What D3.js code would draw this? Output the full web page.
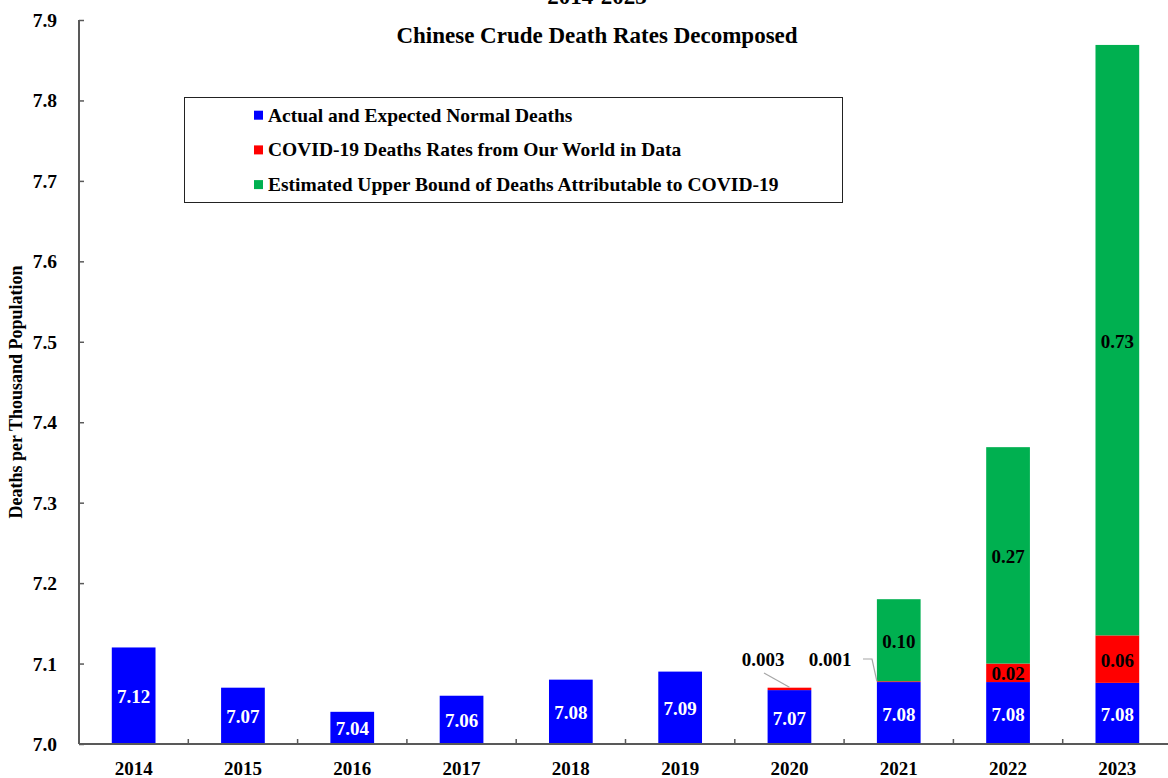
<!DOCTYPE html>
<html>
<head>
<meta charset="utf-8">
<script src="https://cdn.jsdelivr.net/npm/d3@7/dist/d3.min.js"></script>
<style>
  html, body { margin: 0; padding: 0; background: #fff; }
  svg { display: block; }
  svg text { font-family: "Liberation Serif", "Tinos", "Times New Roman", "DejaVu Serif", serif; font-weight: 700; }
</style>
</head>
<body>
<svg id="chart" width="1168" height="778"></svg>
<script>
// Crude death rates per thousand, split into three stacked components
const years = ["2014", "2015", "2016", "2017", "2018", "2019", "2020", "2021", "2022", "2023"];
const normalDeaths = [7.12, 7.07, 7.04, 7.06, 7.08, 7.09, 7.067, 7.077, 7.077, 7.076];
const covidReported = [0, 0, 0, 0, 0, 0, 0.003, 0.001, 0.023, 0.059];
const covidUpperBound = [0, 0, 0, 0, 0, 0, 0, 0.102, 0.269, 0.734];
const yTicks = [7.0, 7.1, 7.2, 7.3, 7.4, 7.5, 7.6, 7.7, 7.8, 7.9];

const seriesNames = [
  "Actual and Expected Normal Deaths",
  "COVID-19 Deaths Rates from Our World in Data",
  "Estimated Upper Bound of Deaths Attributable to COVID-19"
];
const colors = ["#0000ff", "#ff0000", "#00b050"];

const svg = d3.select("#chart");
const plotLeft = 79, plotTop = 20, plotBottom = 744;
const bandW = 109.3;
const plotRight = plotLeft + bandW * years.length;

const x = d3.scaleBand().domain(years).range([plotLeft, plotRight]).paddingInner(0.6).paddingOuter(0.3);
const y = d3.scaleLinear().domain([7.0, 7.9]).range([plotBottom, plotTop]);

// stacked rows
const rows = years.map((yr, i) => ({
  year: yr, normal: normalDeaths[i], reported: covidReported[i], upper: covidUpperBound[i]
}));
const stacked = d3.stack().keys(["normal", "reported", "upper"])(rows);

const g = svg.append("g");
stacked.forEach((layer, li) => {
  g.selectAll(null).data(layer).enter().append("rect")
    .attr("x", d => x(d.data.year))
    .attr("width", x.bandwidth())
    .attr("y", d => y(d[1]))
    .attr("height", d => li === 0 ? plotBottom - y(d[1]) : Math.max(0, y(d[0]) - y(d[1])))
    .attr("fill", colors[li]);
});

// axes
const axisColor = "#595959";
const yAxis = d3.axisRight(y).tickValues(yTicks).tickSize(5).tickFormat("");
const yg = svg.append("g").attr("transform", `translate(${plotLeft},0)`).call(yAxis);
yg.select(".domain").attr("stroke", axisColor).attr("stroke-width", 2).attr("d", `M0,${plotTop}V${plotBottom}`);
yg.selectAll(".tick line").attr("stroke", axisColor).attr("stroke-width", 1.5);

svg.selectAll(".ytl").data(yTicks).enter().append("text")
  .attr("x", 57).attr("y", d => y(d) + 7)
  .attr("text-anchor", "end").attr("font-size", 19.5).text(d => d.toFixed(1));

// x axis with boundary ticks between categories
const xg = svg.append("g");
xg.append("line").attr("x1", plotLeft).attr("x2", 1168).attr("y1", plotBottom).attr("y2", plotBottom)
  .attr("stroke", axisColor).attr("stroke-width", 2);
const step = x.step();
xg.selectAll(null).data(years.slice(1)).enter().append("line")
  .attr("x1", yr => x(yr) - step * x.paddingInner() / 2)
  .attr("x2", yr => x(yr) - step * x.paddingInner() / 2)
  .attr("y1", plotBottom).attr("y2", plotBottom - 5)
  .attr("stroke", axisColor).attr("stroke-width", 1.5);
svg.selectAll(".xtl").data(years).enter().append("text")
  .attr("x", d => x(d) + x.bandwidth() / 2).attr("y", 775)
  .attr("text-anchor", "middle").attr("font-size", 19).text(d => d);

// value labels
const cx = d => x(d.year) + x.bandwidth() / 2;
svg.selectAll(".lblN").data(rows).enter().append("text")
  .attr("x", cx)
  .attr("y", d => (y(d.normal) + plotBottom) / 2 + 7.5)
  .attr("text-anchor", "middle").attr("font-size", 19).attr("fill", "#fff")
  .text(d => d.normal.toFixed(2));

svg.selectAll(".lblR").data(rows.filter(d => d.reported >= 0.01)).enter().append("text")
  .attr("x", cx)
  .attr("y", d => (y(d.normal) + y(d.normal + d.reported)) / 2 + 7.5)
  .attr("text-anchor", "middle").attr("font-size", 19).attr("fill", "#000")
  .text(d => d.reported.toFixed(2));

svg.selectAll(".lblU").data(rows.filter(d => d.upper > 0)).enter().append("text")
  .attr("x", cx)
  .attr("y", d => (y(d.normal + d.reported) + y(d.normal + d.reported + d.upper)) / 2 + 7.5)
  .attr("text-anchor", "middle").attr("font-size", 19).attr("fill", "#000")
  .text(d => d.upper.toFixed(2));

// small reported values get callouts with leader lines
const r2020 = rows[6], r2021 = rows[7];
svg.append("text").attr("x", 763).attr("y", 666).attr("text-anchor", "middle")
  .attr("font-size", 19).text(r2020.reported.toFixed(3));
svg.append("path")
  .attr("d", `M764,673L${cx(r2020)},${y(r2020.normal + r2020.reported) - 0.5}`)
  .attr("stroke", "#a6a6a6").attr("fill", "none").attr("stroke-width", 1.2);
svg.append("text").attr("x", 830).attr("y", 666).attr("text-anchor", "middle")
  .attr("font-size", 19).text(r2021.reported.toFixed(3));
svg.append("path")
  .attr("d", `M863,659L872,659L${x(r2021.year)},${y(r2021.normal + r2021.reported)}`)
  .attr("stroke", "#a6a6a6").attr("fill", "none").attr("stroke-width", 1.2);

// titles
svg.append("text").attr("x", 597).attr("y", 4).attr("text-anchor", "middle")
  .attr("font-size", 23).text("2014-2023");
svg.append("text").attr("x", 597).attr("y", 43).attr("text-anchor", "middle")
  .attr("font-size", 23).text("Chinese Crude Death Rates Decomposed");
svg.append("text").attr("transform", "translate(22,392) rotate(-90)")
  .attr("text-anchor", "middle").attr("font-size", 18).text("Deaths per Thousand Population");

// legend
const lg = svg.append("g");
lg.append("rect").attr("x", 184.5).attr("y", 97.5).attr("width", 658).attr("height", 105)
  .attr("fill", "#fff").attr("stroke", "#222").attr("stroke-width", 1);
seriesNames.forEach((name, i) => {
  const base = 121.7 + i * 34.7;
  lg.append("rect").attr("x", 254).attr("y", base - 11).attr("width", 9).attr("height", 9).attr("fill", colors[i]);
  lg.append("text").attr("x", 268).attr("y", base).attr("font-size", 19.5).text(name);
});
</script>
</body>
</html>
